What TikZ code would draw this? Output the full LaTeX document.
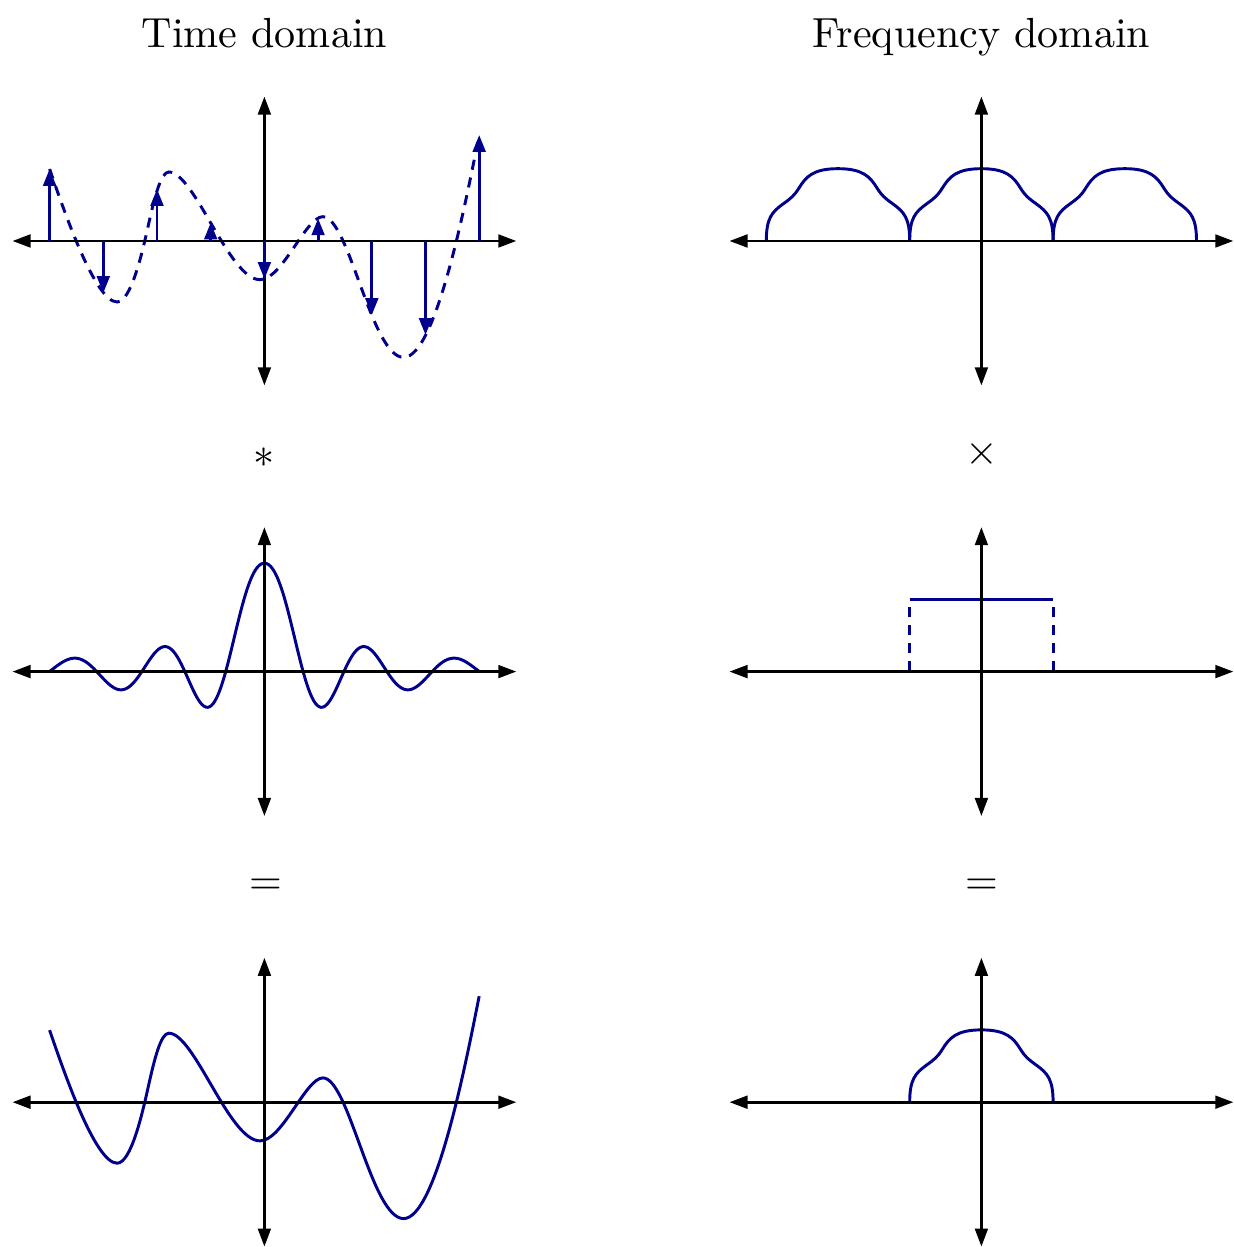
\documentclass[tikz,border=0pt]{standalone}
\usetikzlibrary{arrows.meta}
\definecolor{sigblue}{RGB}{0,0,140}
\newcommand\timesig{(-214.8,72) .. controls (-200.8,31.4) and (-169.3,-61) .. (-147.3,-61)
 .. controls (-133.3,-61) and (-122,-11) .. (-116,16)
 .. controls (-110,43) and (-103.6,69) .. (-95.6,69)
 .. controls (-70,69) and (-35.3,-38.7) .. (-4.4,-38.7)
 .. controls (18,-38.7) and (41.3,24.3) .. (58.5,24.3)
 .. controls (84.5,24.3) and (107.2,-116.4) .. (139.2,-116.4)
 .. controls (171.2,-116.4) and (200.8,36) .. (214.8,106)}
\begin{document}
\begin{tikzpicture}[x=0.2375pt,y=0.2375pt,
  axis/.style={line width=0.7pt, black, {Triangle[length=4.3pt,width=3pt]}-{Triangle[length=4.3pt,width=3pt]}},
  sig/.style={line width=0.7pt, sigblue},
  dsh/.style={sig, dash pattern=on 2.4pt off 1.9pt},
  stemarrow/.style={sig, -{Triangle[length=4pt,width=3pt]}},
  lbl/.style={inner sep=0pt},
  declare function={nn(\t)=(sqrt(1415.64+4.3*abs(\t))-37.625)/2.15;
    sw(\t)=108.4*sin(180*nn(\t))/(pi*nn(\t))*(1+0.6125*nn(\t)^2*exp(-nn(\t)/1.6));},
  bump/.pic={\draw[sig] (-71.7,0) .. controls (-71.7,23) and (-66,29) .. (-55,37)
     .. controls (-47,42.8) and (-44,45) .. (-39,53)
     .. controls (-32,64.2) and (-25,72.3) .. (0,72.3)
     .. controls (25,72.3) and (32,64.2) .. (39,53)
     .. controls (44,45) and (47,42.8) .. (55,37)
     .. controls (66,29) and (71.7,23) .. (71.7,0);}
]
\useasboundingbox (0,0) rectangle (1233,1247);

% titles
\node[lbl, anchor=base] (tt) at (264.4,1199.5) {Time domain};
\node[lbl, anchor=base] (ft) at (981.4,1199.5) {Frequency domain};

% operators
\node (conv) at (264.4,789.5) {$*$};
\node (mult) at (981.4,793.3) {$\times$};
\node (eqa) at (265.5,360.7) {$=$};
\node (eqb) at (981.4,360.7) {$=$};

% ---- row 1 left: sampled signal
\begin{scope}[shift={(264.4,1006)}]
  \draw[dsh] \timesig;
  \draw[axis] (-252,0) -- (252,0);
  \draw[axis] (0,-144.5) -- (0,144.5);
  \foreach \k/\v in {-4/72,-3/-52,-2/52,-1/18.4,0/-38,1/22.6,2/-74,3/-94,4/106}
    \draw[stemarrow] (\k*53.7,0) -- (\k*53.7,\v);
\end{scope}

% ---- row 1 right: periodic spectrum
\begin{scope}[shift={(981.4,1006)}]
  \pic at (-143.4,0) {bump};
  \pic at (0,0) {bump};
  \pic at (143.4,0) {bump};
  \draw[axis] (-252,0) -- (252,0);
  \draw[axis] (0,-144.5) -- (0,144.5);
\end{scope}

% ---- row 2 left: sinc
\begin{scope}[shift={(264.4,575.4)}]
  \draw[sig] plot[domain=-215:215, samples=240] (\x,{sw(\x)});
  \draw[axis] (-252,0) -- (252,0);
  \draw[axis] (0,-144.5) -- (0,144.5);
\end{scope}

% ---- row 2 right: rect
\begin{scope}[shift={(981.4,575.4)}]
  \draw[sig] (-71.7,72.3) -- (71.7,72.3);
  \draw[dsh] (-71.7,0) -- (-71.7,72.3);
  \draw[dsh] (71.7,0) -- (71.7,72.3);
  \draw[axis] (-252,0) -- (252,0);
  \draw[axis] (0,-144.5) -- (0,144.5);
\end{scope}

% ---- row 3 left: reconstructed signal
\begin{scope}[shift={(264.4,144.8)}]
  \draw[sig] \timesig;
  \draw[axis] (-252,0) -- (252,0);
  \draw[axis] (0,-144.5) -- (0,144.5);
\end{scope}

% ---- row 3 right: spectrum
\begin{scope}[shift={(981.4,144.8)}]
  \pic at (0,0) {bump};
  \draw[axis] (-252,0) -- (252,0);
  \draw[axis] (0,-144.5) -- (0,144.5);
\end{scope}
\end{tikzpicture}
\end{document}
